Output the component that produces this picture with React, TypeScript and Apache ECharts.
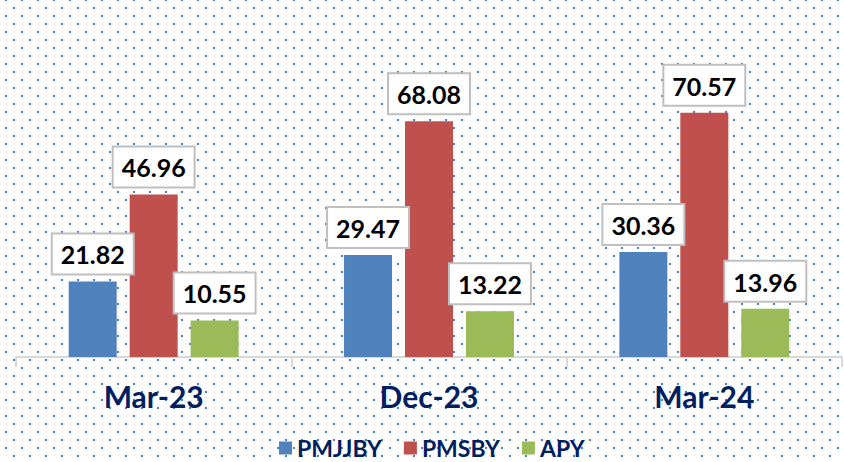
import React, { useEffect, useRef } from "react";
import * as echarts from "echarts";

const categories = ["Mar-23", "Dec-23", "Mar-24"];
const pmjjby = [21.82, 29.47, 30.36];
const pmsby = [46.96, 68.08, 70.57];
const apy = [10.55, 13.22, 13.96];
const seriesNames = ["PMJJBY", "PMSBY", "APY"];
const seriesColors = ["#4f81bd", "#c0504d", "#9bbb59"];

function makeDotPattern(): HTMLCanvasElement {
  const c = document.createElement("canvas");
  c.width = 16;
  c.height = 16;
  const ctx = c.getContext("2d")!;
  ctx.fillStyle = "#ffffff";
  ctx.fillRect(0, 0, 16, 16);
  ctx.fillStyle = "#4a7ebf";
  ctx.fillRect(5, 0, 2, 1);
  ctx.fillRect(5, 15, 2, 1);
  ctx.fillRect(13, 7, 2, 2);
  return c;
}

export default function App() {
  const ref = useRef<HTMLDivElement>(null);
  useEffect(() => {
    document.body.style.margin = "0";
    const chart = echarts.init(ref.current!, null, { renderer: "svg" });
    const labelStyle = {
      show: true,
      position: "top" as const,
      distance: 8,
      backgroundColor: "#ffffff",
      borderColor: "#bfbfbf",
      borderWidth: 2,
      padding: [7, 8, 6, 8],
      fontFamily: "Lato",
      fontWeight: "bold" as const,
      fontSize: 25,
      lineHeight: 26,
      color: "#000000",
    };
    const dataSets = [pmjjby, pmsby, apy];
    chart.setOption({
      animation: false,
      backgroundColor: { image: makeDotPattern(), repeat: "repeat" },
      grid: { left: 16, right: 2, top: 80, bottom: 105 },
      legend: {
        left: 279,
        top: 436,
        padding: 0,
        icon: "rect",
        itemWidth: 13,
        itemHeight: 13,
        itemGap: 22,
        textStyle: {
          fontFamily: "Lato",
          fontWeight: "bold",
          fontSize: 23,
          lineHeight: 24,
          color: "#002060",
        },
        data: seriesNames,
      },
      xAxis: {
        type: "category",
        data: categories,
        axisLine: { lineStyle: { color: "#d9d9d9", width: 2 } },
        axisTick: { show: true, length: 10, lineStyle: { color: "#d9d9d9", width: 2 } },
        axisLabel: {
          margin: 24,
          fontFamily: "Lato",
          fontWeight: "bold",
          fontSize: 30,
          color: "#002060",
        },
      },
      yAxis: {
        type: "value",
        min: 0,
        max: 80,
        show: false,
        splitLine: { show: false },
      },
      series: seriesNames.map((name, i) => ({
        name,
        type: "bar",
        data: dataSets[i],
        barWidth: 48,
        barGap: "27%",
        itemStyle: { color: seriesColors[i] },
        label: labelStyle,
      })),
    });
    return () => chart.dispose();
  }, []);
  return <div ref={ref} style={{ width: 844, height: 462 }} />;
}
